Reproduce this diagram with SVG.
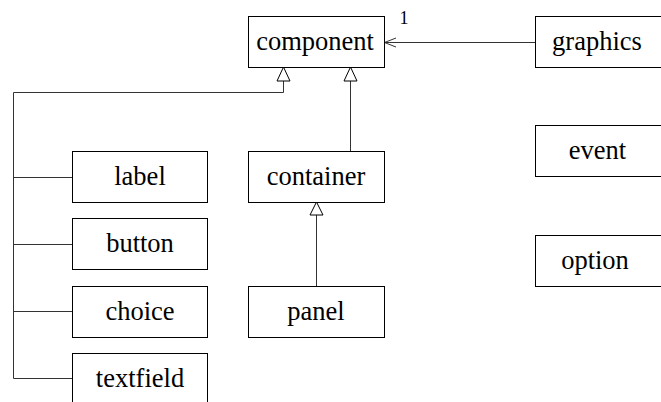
<svg xmlns="http://www.w3.org/2000/svg" width="661" height="402" viewBox="0 0 661 402">
<defs>
<style>
.box{fill:#fff;stroke:#000;stroke-width:1}
.t{font-family:"Liberation Serif","Times New Roman",serif;font-size:26.5px;fill:#000;text-anchor:middle}
.c{fill:none;stroke:#333;stroke-width:1}
.tri{fill:#fff;stroke:#000;stroke-width:1}
</style>
</defs>
<rect width="661" height="402" fill="#fff"/>
<g id="connectors">
<path class="c" d="M283.5 81 V92.5 H13.5 V378.5 H72"/>
<path class="c" d="M13.5 177.5 H72 M13.5 244.5 H72 M13.5 311.5 H72"/>
<path class="c" d="M350.5 81 V151"/>
<path class="c" d="M316.5 215 V286"/>
<path class="c" d="M535 42.5 H384"/>
<path class="c" d="M396 38 L384.5 42.5 L396 47"/>
<polygon class="tri" points="283.5,67 277,81 290,81"/>
<polygon class="tri" points="350.5,67 344,81 357,81"/>
<polygon class="tri" points="316.5,202 310,215 323,215"/>
<text x="404" y="24" style="font-family:'Liberation Serif','Times New Roman',serif;font-size:18px;text-anchor:middle">1</text>
</g>
<g id="component"><rect class="box" x="248.5" y="16.5" width="136" height="51"/><text class="t" x="315" y="50">component</text></g>
<g id="graphics"><rect class="box" x="535.5" y="16.5" width="136" height="51"/><text class="t" x="597" y="50">graphics</text></g>
<g id="container"><rect class="box" x="248.5" y="151.5" width="136" height="51"/><text class="t" x="316" y="185">container</text></g>
<g id="panel"><rect class="box" x="248.5" y="286.5" width="136" height="51"/><text class="t" x="316" y="320">panel</text></g>
<g id="event"><rect class="box" x="535.5" y="125.5" width="136" height="51"/><text class="t" x="597.5" y="159">event</text></g>
<g id="option"><rect class="box" x="535.5" y="235.5" width="136" height="51"/><text class="t" x="595" y="269">option</text></g>
<g id="label"><rect class="box" x="72.5" y="151.5" width="135" height="51"/><text class="t" x="140" y="185">label</text></g>
<g id="button"><rect class="box" x="72.5" y="218.5" width="135" height="51"/><text class="t" x="140" y="252">button</text></g>
<g id="choice"><rect class="box" x="72.5" y="286.5" width="135" height="51"/><text class="t" x="140" y="320">choice</text></g>
<g id="textfield"><rect class="box" x="72.5" y="353.5" width="135" height="60"/><text class="t" x="140" y="387">textfield</text></g>
</svg>
